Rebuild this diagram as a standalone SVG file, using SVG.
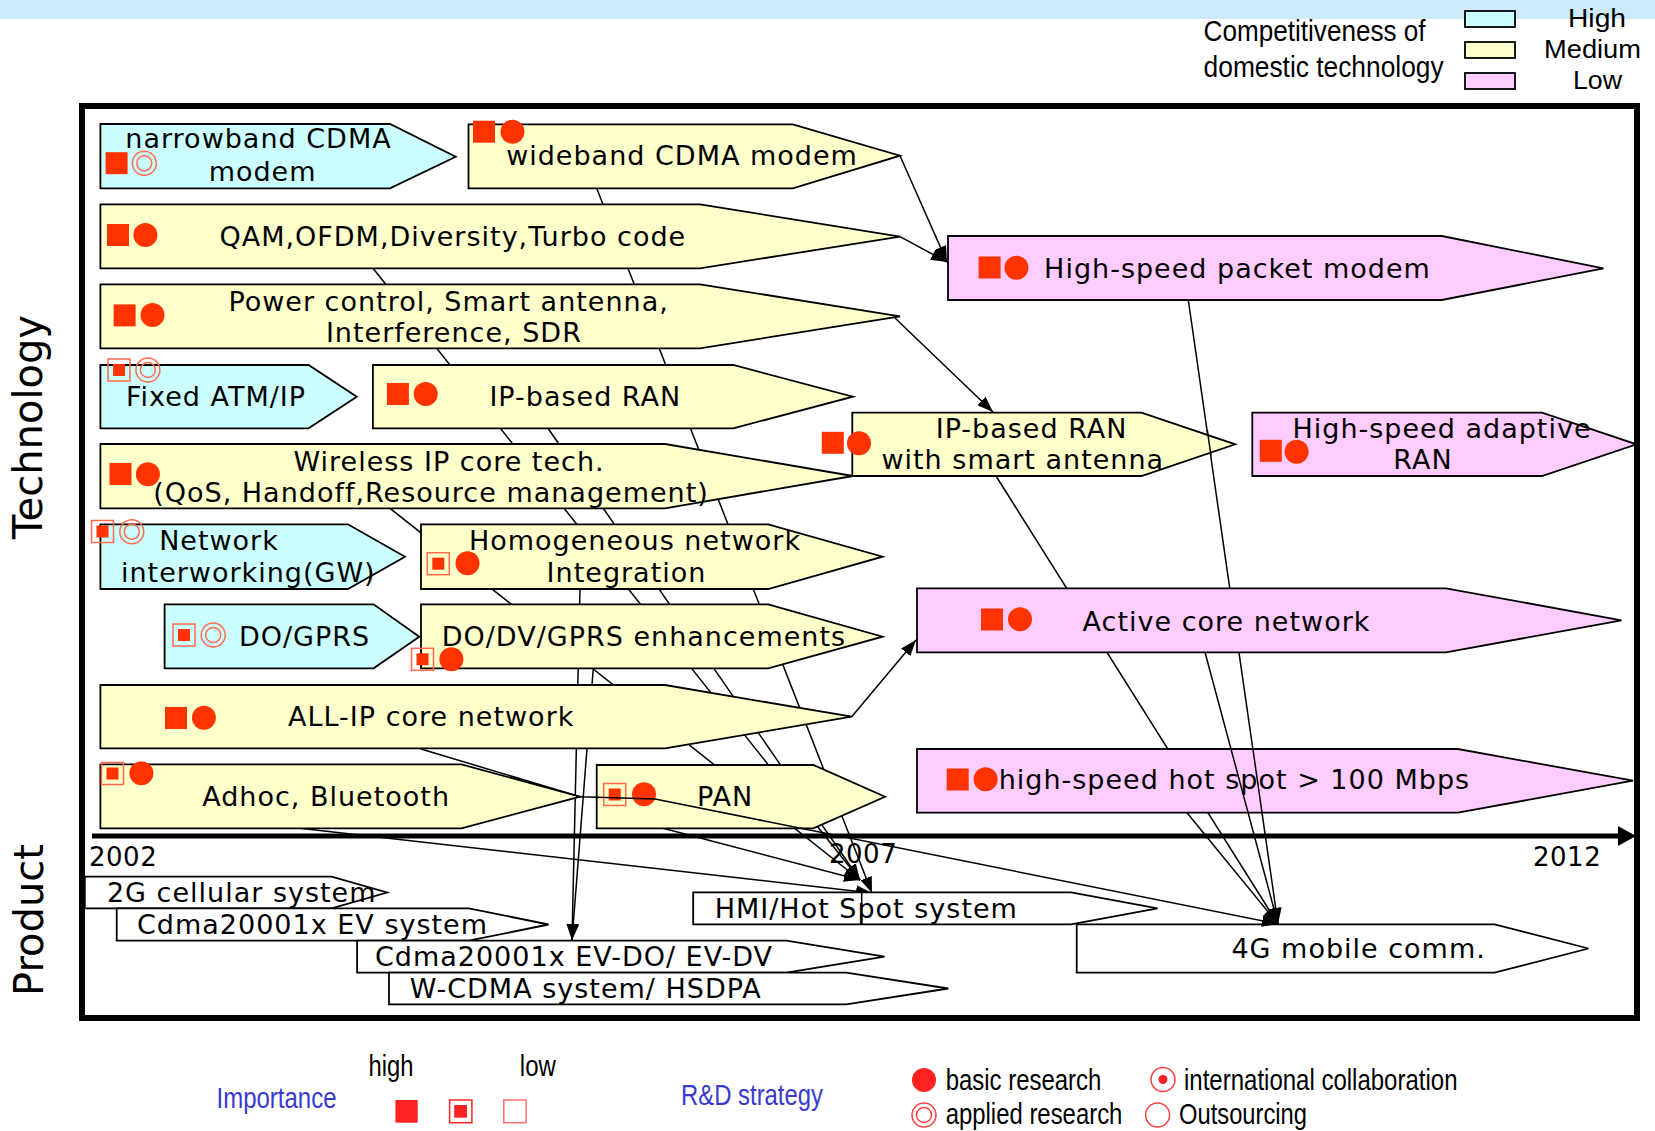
<svg xmlns="http://www.w3.org/2000/svg" width="1655" height="1131" viewBox="0 0 1655 1131">
<defs>
<style>
.nd{stroke:#000;stroke-width:1.8;stroke-linejoin:miter}
.hi{fill:#ccffff}.me{fill:#ffffcc}.lo{fill:#ffccff}.pr{fill:#ffffff}
.t{font-family:"DejaVu Sans",Verdana,sans-serif;font-size:27px;letter-spacing:1px;fill:#000;text-anchor:middle}
.yr{font-family:"DejaVu Sans",Verdana,sans-serif;font-size:26px;letter-spacing:0.5px;fill:#000}
.ax{font-family:"DejaVu Sans",Verdana,sans-serif;font-size:40px;fill:#000;text-anchor:middle}
.c{stroke:#000;stroke-width:1.5;fill:none}
.ca{marker-end:url(#ah)}
.lg{font-family:"Liberation Sans",Arial,sans-serif;fill:#000}
.bl{fill:#3a3acc}
</style>
<marker id="ah" viewBox="0 0 16 12" refX="16" refY="6" markerWidth="16" markerHeight="12" markerUnits="userSpaceOnUse" orient="auto"><path d="M0,0L16,6L0,12z" fill="#000"/></marker>
<g id="sqH"><rect x="-11" y="-11" width="22" height="22" fill="#ff3300"/></g>
<g id="sqM"><rect x="-11" y="-11" width="22" height="22" fill="none" stroke="#ff6a4d" stroke-width="1.5"/><rect x="-6" y="-6" width="12" height="12" fill="#ff3300"/></g>
<g id="ciB"><circle r="12" fill="#ff3300"/></g>
<g id="ciA"><circle r="12" fill="none" stroke="#ff6a4d" stroke-width="1.5"/><circle r="7.5" fill="none" stroke="#ff6a4d" stroke-width="1.5"/></g>
</defs>

<rect x="0" y="0" width="1655" height="19" fill="#cceafa"/>

<g id="legend-competitiveness">
<text class="lg" x="1203.6" y="41" font-size="30" textLength="222" lengthAdjust="spacingAndGlyphs">Competitiveness of</text>
<text class="lg" x="1203.6" y="77" font-size="30" textLength="240" lengthAdjust="spacingAndGlyphs">domestic technology</text>
<rect x="1465" y="11" width="50" height="16" class="nd hi"/>
<rect x="1465" y="42" width="50" height="16" class="nd me"/>
<rect x="1465" y="73" width="50" height="16" class="nd lo"/>
<text class="lg" x="1568" y="27" font-size="25" textLength="58" lengthAdjust="spacingAndGlyphs">High</text>
<text class="lg" x="1544" y="58" font-size="25" textLength="97" lengthAdjust="spacingAndGlyphs">Medium</text>
<text class="lg" x="1573" y="89" font-size="25" textLength="49" lengthAdjust="spacingAndGlyphs">Low</text>
</g>

<rect id="frame" x="82" y="106" width="1555" height="912" fill="none" stroke="#000" stroke-width="6"/>

<text class="ax" transform="translate(42,427) rotate(-90)">Technology</text>
<text class="ax" transform="translate(43,920) rotate(-90)">Product</text>

<g id="connectors">
<line class="c ca" x1="596.7" y1="188.3" x2="872" y2="893"/>
<line class="c ca" x1="373" y1="268.3" x2="860" y2="880"/>
<line class="c ca" x1="548" y1="428.3" x2="860" y2="880"/>
<line class="c ca" x1="390" y1="508.3" x2="860" y2="880"/>
<line class="c ca" x1="663" y1="828.3" x2="860" y2="880"/>
<line class="c ca" x1="300" y1="828.3" x2="872" y2="893"/>
<line class="c ca" x1="580" y1="589" x2="572" y2="940"/>
<line class="c ca" x1="593.3" y1="668.3" x2="572" y2="940"/>
<line class="c ca" x1="996" y1="476" x2="1278" y2="924"/>
<line class="c ca" x1="1188.3" y1="300" x2="1278" y2="924"/>
<line class="c ca" x1="900" y1="155.7" x2="947" y2="262"/>
<line class="c ca" x1="900" y1="236.7" x2="947" y2="262"/>
<line class="c ca" x1="895" y1="318" x2="993" y2="412"/>
<line class="c ca" x1="851.7" y1="716.7" x2="916" y2="640"/>
</g>

<g id="timeline">
<line x1="92" y1="836" x2="1622" y2="836" stroke="#000" stroke-width="5"/>
<polygon points="1618,826 1636,836 1618,846" fill="#000"/>
<text class="yr" x="89" y="866">2002</text>
<text class="yr" x="829" y="863">2007</text>
<text class="yr" x="1533" y="866">2012</text>
</g>

<g id="n-narrowband">
<polygon class="nd hi" points="100.4,124 390,124 455.7,156.7 390,188.3 100.4,188.3"/>
<text class="t" x="258.5" y="148">narrowband CDMA</text>
<text class="t" x="262.6" y="181">modem</text>
<use href="#sqH" x="116.6" y="163.2"/><use href="#ciA" x="144.3" y="163.3"/>
</g>
<g id="n-wideband">
<polygon class="nd me" points="468.5,124.3 792.8,124.3 900,155.7 792.8,188.3 468.5,188.3"/>
<text class="t" x="682" y="165">wideband CDMA modem</text>
<use href="#sqH" x="484" y="131.7"/><use href="#ciB" x="512.5" y="131.7"/>
</g>
<g id="n-qam">
<polygon class="nd me" points="100.4,204.3 700,204.3 900,236.7 700,268.3 100.4,268.3"/>
<text class="t" x="452.8" y="245.7">QAM,OFDM,Diversity,Turbo code</text>
<use href="#sqH" x="118" y="235"/><use href="#ciB" x="145.4" y="235"/>
</g>
<g id="n-power">
<polygon class="nd me" points="100.4,284.3 700,284.3 900,316.3 700,348.3 100.4,348.3"/>
<text class="t" x="448.6" y="310.5">Power control, Smart antenna,</text>
<text class="t" x="453.9" y="341.5">Interference, SDR</text>
<use href="#sqH" x="124.6" y="315.4"/><use href="#ciB" x="152.5" y="315"/>
</g>
<g id="n-fixed">
<polygon class="nd hi" points="100.4,365 308.6,365 356.8,396.7 308.6,428.3 100.4,428.3"/>
<text class="t" x="216" y="405.5">Fixed ATM/IP</text>
<use href="#sqM" x="119" y="370"/><use href="#ciA" x="147.9" y="370"/>
</g>
<g id="n-ipran">
<polygon class="nd me" points="372.9,365 733.3,365 852.9,396.7 733.3,428.3 372.9,428.3"/>
<text class="t" x="585.3" y="405.5">IP-based RAN</text>
<use href="#sqH" x="397.9" y="394"/><use href="#ciB" x="425.7" y="394"/>
</g>
<g id="n-wireless">
<polygon class="nd me" points="100.4,444 665,444 852.9,476 665,508.3 100.4,508.3"/>
<text class="t" x="449" y="471">Wireless IP core tech.</text>
<text class="t" x="431" y="502">(QoS, Handoff,Resource management)</text>
<use href="#sqH" x="120.5" y="474"/><use href="#ciB" x="147.9" y="474.3"/>
</g>
<g id="n-network">
<polygon class="nd hi" points="100.4,524.3 347.9,524.3 405,556.7 347.9,589 100.4,589"/>
<text class="t" x="219" y="550">Network</text>
<text class="t" x="248.3" y="581.5">interworking(GW)</text>
<use href="#sqM" x="102.5" y="531.5"/><use href="#ciA" x="131.8" y="531.7"/>
</g>
<g id="n-homog">
<polygon class="nd me" points="421,524.3 768.2,524.3 882.6,556.7 768.2,589 421,589"/>
<text class="t" x="635" y="550">Homogeneous network</text>
<text class="t" x="626.5" y="581.5">Integration</text>
<use href="#sqM" x="438.3" y="563.7"/><use href="#ciB" x="467.5" y="563.3"/>
</g>
<g id="n-dogprs">
<polygon class="nd hi" points="164.6,604.3 373.6,604.3 419.3,636.7 373.6,668.3 164.6,668.3"/>
<text class="t" x="304.5" y="646">DO/GPRS</text>
<use href="#sqM" x="184" y="635"/><use href="#ciA" x="213.2" y="635"/>
</g>
<g id="n-dodv">
<polygon class="nd me" points="421,604.3 768.2,604.3 882.6,636.7 768.2,668.3 421,668.3"/>
<text class="t" x="643.9" y="646">DO/DV/GPRS enhancements</text>
<use href="#sqM" x="422.5" y="659.3"/><use href="#ciB" x="451.4" y="659.3"/>
</g>
<g id="n-allip">
<polygon class="nd me" points="100.4,685 665,685 851.7,716.7 665,748.3 100.4,748.3"/>
<text class="t" x="431.2" y="726">ALL-IP core network</text>
<use href="#sqH" x="176" y="718"/><use href="#ciB" x="203.9" y="717.7"/>
</g>
<g id="n-adhoc">
<polygon class="nd me" points="100.4,764.3 461.4,764.3 580,796.7 461.4,828.3 100.4,828.3"/>
<text class="t" x="326.1" y="806">Adhoc, Bluetooth</text>
<use href="#sqM" x="112.5" y="773.5"/><use href="#ciB" x="141.4" y="773.3"/>
</g>
<g id="n-pan">
<polygon class="nd me" points="596.7,765 813.3,765 885,796.7 813.3,828.3 596.7,828.3"/>
<text class="t" x="725.1" y="806">PAN</text>
<use href="#sqM" x="614.7" y="794.5"/><use href="#ciB" x="644" y="794.3"/>
</g>
<g id="n-packet">
<polygon class="nd lo" points="948,236 1441.8,236 1603.5,268.3 1441.8,300 948,300"/>
<text class="t" x="1237.5" y="278">High-speed packet modem</text>
<use href="#sqH" x="989.6" y="267.5"/><use href="#ciB" x="1016.5" y="267.7"/>
</g>
<g id="n-ipransmart">
<polygon class="nd me" points="852.3,412.7 1141.5,412.7 1235.2,444.3 1141.5,476 852.3,476"/>
<text class="t" x="1031.6" y="437.5">IP-based RAN</text>
<text class="t" x="1022.8" y="468.5">with smart antenna</text>
<use href="#sqH" x="832.8" y="442.8"/><use href="#ciB" x="859" y="443.3"/>
</g>
<g id="n-adaptive">
<polygon class="nd lo" points="1252.3,412.7 1542,412.7 1636.5,444.3 1542,476 1252.3,476"/>
<text class="t" x="1442" y="437.5">High-speed adaptive</text>
<text class="t" x="1423" y="468.5">RAN</text>
<use href="#sqH" x="1270.8" y="450.8"/><use href="#ciB" x="1296.6" y="451.7"/>
</g>
<g id="n-hotspot">
<polygon class="nd lo" points="917,749 1458,749 1633,780.7 1458,812.7 917,812.7"/>
<text class="t" x="1234.4" y="789">high-speed hot spot &gt; 100 Mbps</text>
<use href="#sqH" x="957.7" y="779.5"/><use href="#ciB" x="985.6" y="779.3"/>
</g>

<g id="p-2g">
<polygon class="nd pr" points="84.8,876.7 331.6,876.7 387,892.5 331.6,908.3 84.8,908.3"/>
<text class="t" x="241.7" y="902">2G cellular system</text>
</g>
<g id="p-ev">
<polygon class="nd pr" points="116.7,908.3 468.8,908.3 548.5,924.5 468.8,940.7 116.7,940.7"/>
<text class="t" x="312.5" y="934">Cdma20001x EV system</text>
</g>
<g id="p-evdo">
<polygon class="nd pr" points="357.1,940.7 786.4,940.7 884.6,956.7 786.4,972.7 357.1,972.7"/>
<text class="t" x="574" y="966">Cdma20001x EV-DO/ EV-DV</text>
</g>
<g id="p-wcdma">
<polygon class="nd pr" points="389,972.7 846.3,972.7 948.3,988.5 846.3,1004.3 389,1004.3"/>
<text class="t" x="585.8" y="997.5">W-CDMA system/ HSDPA</text>
</g>
<g id="p-hmi">
<polygon class="nd pr" points="693.2,892.3 1071,892.3 1157.6,908.3 1071,924.3 693.2,924.3"/>
<line x1="861.7" y1="892.3" x2="861.7" y2="924.3" stroke="#000" stroke-width="1.5"/>
<text class="t" x="866.3" y="917.5">HMI/Hot Spot system</text>
</g>
<g id="p-4g">
<polygon class="nd pr" points="1076.7,924.3 1494.6,924.3 1588.5,948.5 1494.6,972.7 1076.7,972.7"/>
<text class="t" x="1358.6" y="957.5">4G mobile comm.</text>
</g>

<g id="connectors-top">
<polyline class="c ca" points="421,749 580,796.7 655,799 1278,924"/>
<line class="c ca" x1="1205" y1="652.3" x2="1278" y2="924"/>
<line class="c ca" x1="1187" y1="812.7" x2="1278" y2="924"/>
<line class="c" x1="1252.9" y1="749" x2="1262" y2="812.7"/>
<line class="c" x1="1207.3" y1="430" x2="1211" y2="456"/>
</g>

<g id="n-active">
<polygon class="nd lo" points="917,588.3 1446,588.3 1621.5,620.3 1446,652.3 917,652.3"/>
<text class="t" x="1226.5" y="631">Active core network</text>
<use href="#sqH" x="992" y="619.5"/><use href="#ciB" x="1020" y="619.3"/>
</g>

<g id="legend-bottom">
<text class="lg bl" x="216.5" y="1108" font-size="30" textLength="120" lengthAdjust="spacingAndGlyphs">Importance</text>
<text class="lg" x="368.6" y="1076" font-size="30" textLength="45" lengthAdjust="spacingAndGlyphs">high</text>
<text class="lg" x="519.8" y="1076" font-size="30" textLength="36" lengthAdjust="spacingAndGlyphs">low</text>
<rect x="395.4" y="1100" width="22.3" height="22.7" fill="#ff2222"/>
<rect x="449.6" y="1100" width="22.3" height="22.7" fill="none" stroke="#ff2222" stroke-width="1.5"/>
<rect x="454.2" y="1105" width="12.8" height="12.7" fill="#ff2222"/>
<rect x="503.8" y="1100" width="22.3" height="22.7" fill="none" stroke="#ff7070" stroke-width="1.5"/>
<text class="lg bl" x="681" y="1105" font-size="30" textLength="142" lengthAdjust="spacingAndGlyphs">R&amp;D strategy</text>
<circle cx="924" cy="1080" r="12" fill="#ff2222"/>
<text class="lg" x="945.7" y="1090" font-size="30" textLength="155.6" lengthAdjust="spacingAndGlyphs">basic research</text>
<circle cx="924" cy="1115" r="12" fill="none" stroke="#ff4040" stroke-width="1.5"/>
<circle cx="924" cy="1115" r="7.5" fill="none" stroke="#ff4040" stroke-width="1.5"/>
<text class="lg" x="945.7" y="1124" font-size="30" textLength="176.7" lengthAdjust="spacingAndGlyphs">applied research</text>
<circle cx="1163" cy="1079.5" r="12" fill="none" stroke="#ff4040" stroke-width="1.5"/>
<circle cx="1163" cy="1079.5" r="4.5" fill="#ff2222"/>
<text class="lg" x="1184" y="1090" font-size="30" textLength="273.5" lengthAdjust="spacingAndGlyphs">international collaboration</text>
<circle cx="1157.6" cy="1115" r="12" fill="none" stroke="#ff4040" stroke-width="1.5"/>
<text class="lg" x="1179" y="1124" font-size="30" textLength="128" lengthAdjust="spacingAndGlyphs">Outsourcing</text>
</g>
</svg>
